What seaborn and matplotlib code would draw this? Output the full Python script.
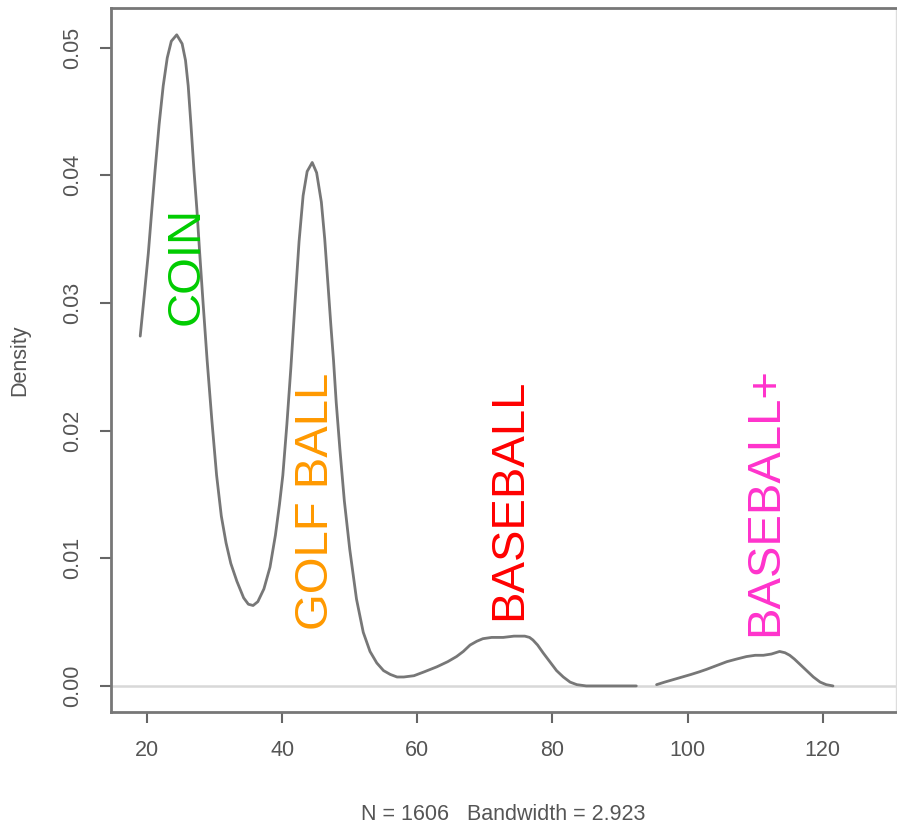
import numpy as np
import pandas as pd
import matplotlib
matplotlib.use("Agg")
import matplotlib.pyplot as plt
import seaborn as sns

# density curve (two pieces, gap between ~92 and ~95)
x_part1 = [19.0, 19.6, 20.2, 20.7, 21.2, 21.8, 22.4, 23.0, 23.6, 24.4, 25.2, 25.7,
           26.1, 26.5, 26.95, 27.4, 27.8, 28.3, 28.9, 29.6, 30.3, 31.0, 31.7, 32.4,
           33.3, 34.3, 35.0, 35.7, 36.4, 37.3, 38.2, 39.0, 39.6, 40.1, 40.7, 41.3,
           41.9, 42.5, 43.1, 43.7, 44.45, 45.1, 45.8, 46.3, 46.8, 47.2, 47.6, 48.0,
           48.55, 49.2, 50.0, 51.0, 52.0, 53.0, 54.0, 55.0, 56.0, 57.0, 58.0, 59.5,
           61.0, 62.9, 64.5, 65.8, 66.8, 67.8, 68.8, 69.7, 71.0, 72.7, 74.3, 75.9,
           76.6, 77.1, 77.8, 78.6, 79.6, 80.6, 81.6, 82.6, 83.6, 85.0, 88.0, 92.4]
y_part1 = [0.0274, 0.0306, 0.0339, 0.0372, 0.0404, 0.0440, 0.0470, 0.0492, 0.0505,
           0.0510, 0.0503, 0.0490, 0.0470, 0.0440, 0.0404, 0.0372, 0.0339, 0.0300,
           0.0255, 0.0208, 0.0165, 0.0133, 0.0112, 0.0096, 0.0082, 0.0069, 0.0064,
           0.0063, 0.0066, 0.0076, 0.0093, 0.0118, 0.0142, 0.0165, 0.0205, 0.0250,
           0.0300, 0.0348, 0.0384, 0.0403, 0.0410, 0.0402, 0.0379, 0.0350, 0.0313,
           0.0283, 0.0255, 0.0222, 0.0185, 0.0145, 0.0107, 0.0068, 0.0042, 0.0027,
           0.0018, 0.0012, 0.0009, 0.0007, 0.0007, 0.0008, 0.0011, 0.0015, 0.0019,
           0.0023, 0.0027, 0.0032, 0.0035, 0.0037, 0.0038, 0.0038, 0.0039, 0.0039,
           0.0038, 0.0036, 0.0032, 0.0026, 0.0019, 0.0012, 0.0007, 0.0003, 0.0001,
           0.0000, 0.0000, 0.0000]
x_part2 = [95.4, 96.6, 97.9, 99.2, 100.5, 101.7, 102.8, 104.3, 105.8, 107.2, 108.7,
           110.0, 111.2, 112.4, 113.6, 114.4, 115.1, 115.8, 116.6, 117.6, 118.6,
           119.6, 120.5, 121.5]
y_part2 = [0.0001, 0.0003, 0.0005, 0.0007, 0.0009, 0.0011, 0.0013, 0.0016, 0.0019,
           0.0021, 0.0023, 0.0024, 0.0024, 0.0025, 0.0027, 0.0026, 0.0024, 0.0021,
           0.0017, 0.0012, 0.0007, 0.0003, 0.0001, 0.0000]

labels = ["COIN", "GOLF BALL", "BASEBALL", "BASEBALL+"]
label_x = [27.6, 46.8, 75.4, 113.2]
label_y = [0.0283, 0.0044, 0.0052, 0.0039]
label_colors = ["#00cc00", "#ff9900", "#ff0000", "#ff33cc"]

x_ticks = [20, 40, 60, 80, 100, 120]
y_ticks = [0.00, 0.01, 0.02, 0.03, 0.04, 0.05]

df1 = pd.DataFrame({"x": x_part1, "density": y_part1})
df2 = pd.DataFrame({"x": x_part2, "density": y_part2})

sns.set_style("white")
plt.rcParams["font.family"] = ["Liberation Sans", "DejaVu Sans"]

fig = plt.figure(figsize=(8.97, 8.25), dpi=100)
ax = fig.add_axes([0.1237, 0.137, 0.875, 0.8533])

ax.axhline(0, color="#d8d8d8", lw=1.8, zorder=1)
sns.lineplot(data=df1, x="x", y="density", ax=ax, color="#777777", lw=2, sort=False, zorder=2)
sns.lineplot(data=df2, x="x", y="density", ax=ax, color="#777777", lw=2, sort=False, zorder=2)

for txt, tx, ty, c in zip(labels, label_x, label_y, label_colors):
    ax.text(tx, ty, txt, color=c, fontsize=34, rotation=90, rotation_mode="anchor",
            ha="left", va="baseline")

ax.set_xlim(14.67, 130.8)
ax.set_ylim(-0.00204, 0.0531)
ax.set_xticks(x_ticks)
ax.set_xticklabels([str(v) for v in x_ticks])
ax.set_yticks(y_ticks)
ax.set_yticklabels([f"{v:.2f}" for v in y_ticks], rotation=90, va="center")
ax.tick_params(axis="both", direction="out", length=8, width=1.5, color="#666666",
               labelcolor="#555555", labelsize=15.5, left=True, bottom=True, pad=12)

for side in ["left", "bottom", "top"]:
    ax.spines[side].set_color("#777777")
    ax.spines[side].set_linewidth(2)
ax.spines["right"].set_color("#dddddd")
ax.spines["right"].set_linewidth(1)

ax.set_xlabel("N = 1606   Bandwidth = 2.923", fontsize=15.5, color="#555555", labelpad=31)
ax.set_ylabel("Density", fontsize=15.5, color="#555555", labelpad=23)

fig.savefig("out.png", dpi=100)
